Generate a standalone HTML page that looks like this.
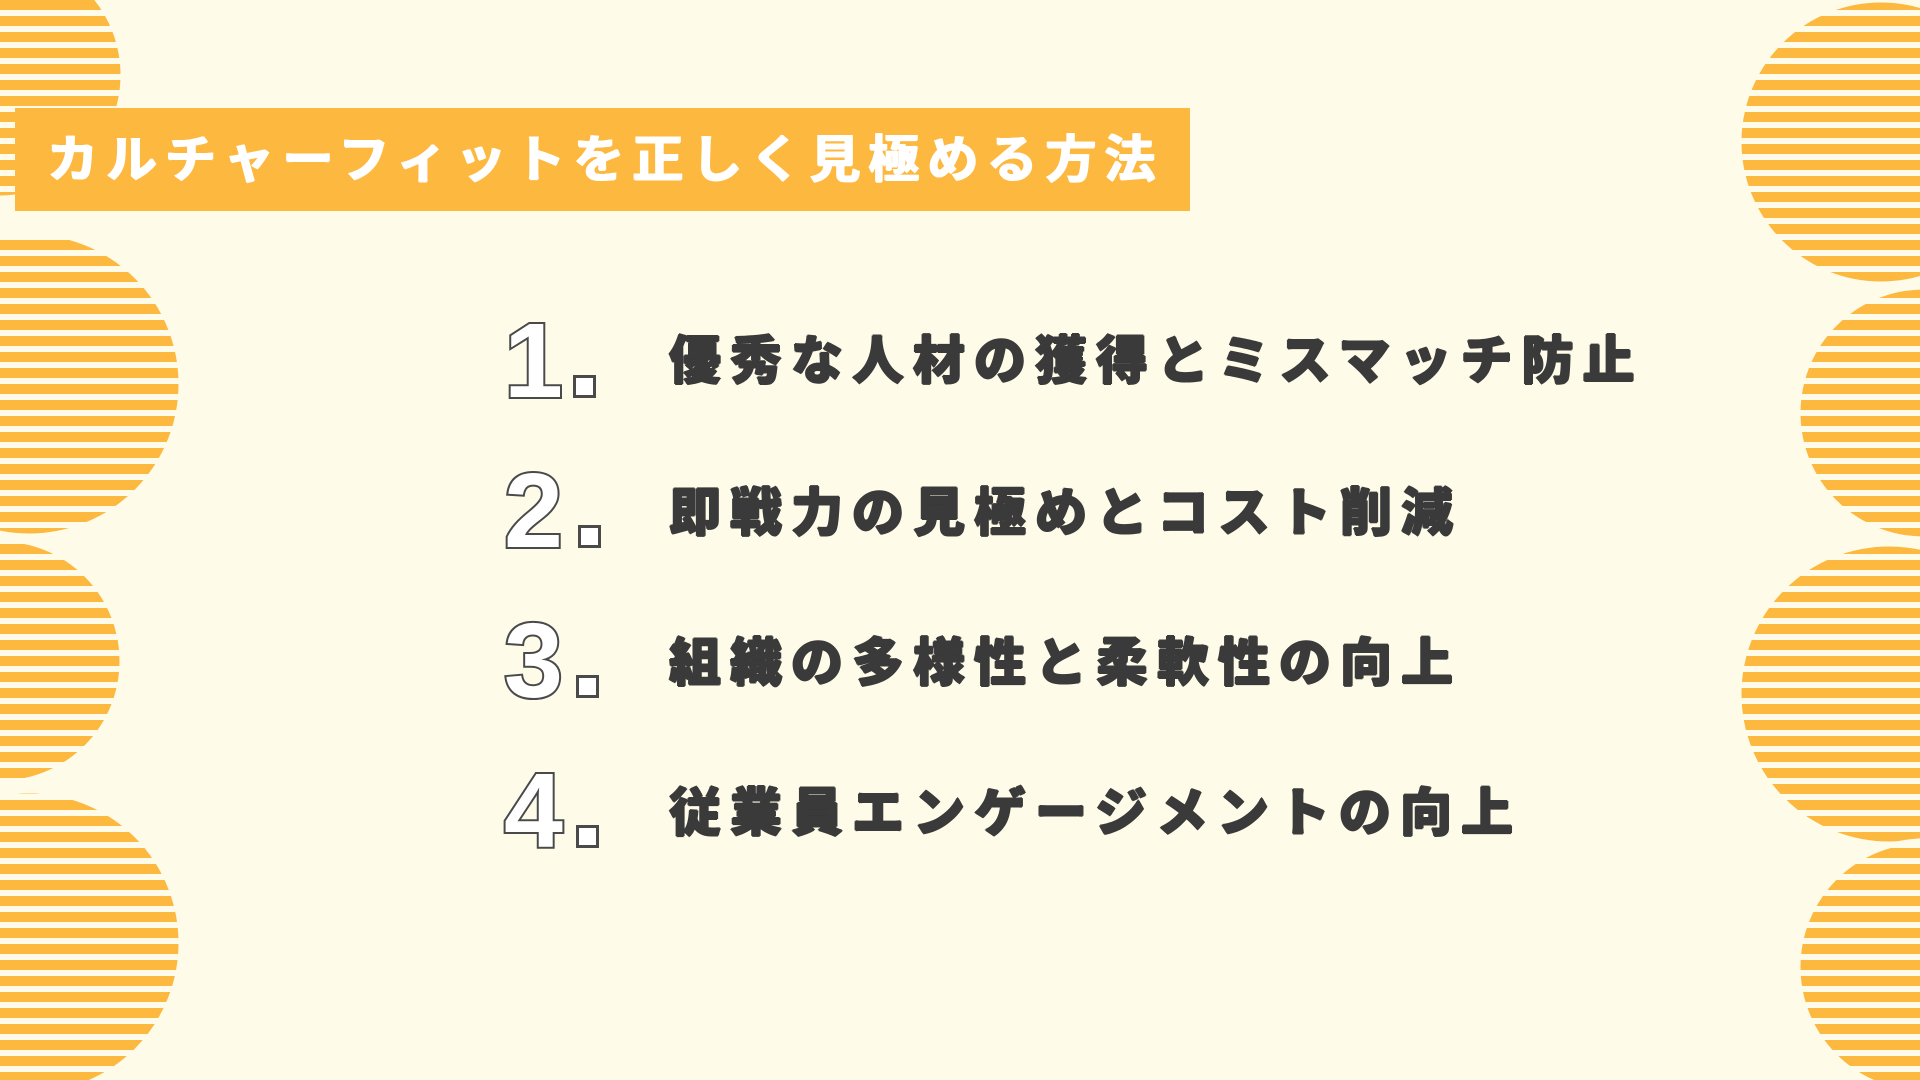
<!DOCTYPE html>
<html><head><meta charset="utf-8">
<style>
html,body{margin:0;padding:0}
body{width:1920px;height:1080px;background:#fefbe8;position:relative;overflow:hidden;font-family:"Liberation Sans","Noto Sans CJK JP",sans-serif}
svg.bg{position:absolute;left:0;top:0}
.title{position:absolute;left:15px;top:108px;width:1175px;height:103px;background:#fdb840;color:#fff;font-weight:bold;font-size:51px;line-height:103px;padding-left:32px;box-sizing:border-box;letter-spacing:8px;white-space:nowrap;text-shadow:1px 0 0 #fff,-1px 0 0 #fff,0 1px 0 #fff}
.num{position:absolute;left:504px;font-family:"Liberation Sans",sans-serif;font-size:106px;font-weight:bold;color:#fff;-webkit-text-stroke:4px #4a4a4a;paint-order:stroke fill;line-height:1}
.dot{position:absolute;width:17px;height:17px;border:3px solid #4a4a4a;background:#fff}
.item{position:absolute;left:669px;font-size:52px;font-weight:900;color:#3a3a3a;letter-spacing:9px;white-space:nowrap;line-height:1;text-shadow:1px 0 0 #3a3a3a,-1px 0 0 #3a3a3a,0 1px 0 #3a3a3a,0 -1px 0 #3a3a3a}
</style></head><body>
<svg class="bg" width="1920" height="1080">
<defs>
<pattern id="st" width="20" height="16" patternUnits="userSpaceOnUse">
<rect x="0" y="0" width="20" height="10" fill="#fdb840"/>
</pattern>
</defs>
<g fill="url(#st)" stroke="#fefbe8" stroke-width="5">
<circle cx="0" cy="75" r="123"/>
<circle cx="29" cy="384" r="152"/>
<circle cx="0" cy="661" r="122"/>
<circle cx="29" cy="943" r="152"/>
<circle cx="1881" cy="142" r="142"/>
<circle cx="1924" cy="413" r="126"/>
<circle cx="1889" cy="694" r="150"/>
<circle cx="1924" cy="967" r="126"/>
</g>
</svg>
<div class="title">カルチャーフィットを正しく見極める方法</div>

<div class="num" style="top:308px">1</div><div class="dot" style="left:573px;top:375px"></div>
<div class="item" style="top:336px">優秀な人材の獲得とミスマッチ防止</div>

<div class="num" style="top:458px">2</div><div class="dot" style="left:578px;top:525px"></div>
<div class="item" style="top:488px">即戦力の見極めとコスト削減</div>

<div class="num" style="top:608px">3</div><div class="dot" style="left:576px;top:675px"></div>
<div class="item" style="top:638px">組織の多様性と柔軟性の向上</div>

<div class="num" style="top:758px">4</div><div class="dot" style="left:576px;top:825px"></div>
<div class="item" style="top:788px">従業員エンゲージメントの向上</div>
</body></html>
